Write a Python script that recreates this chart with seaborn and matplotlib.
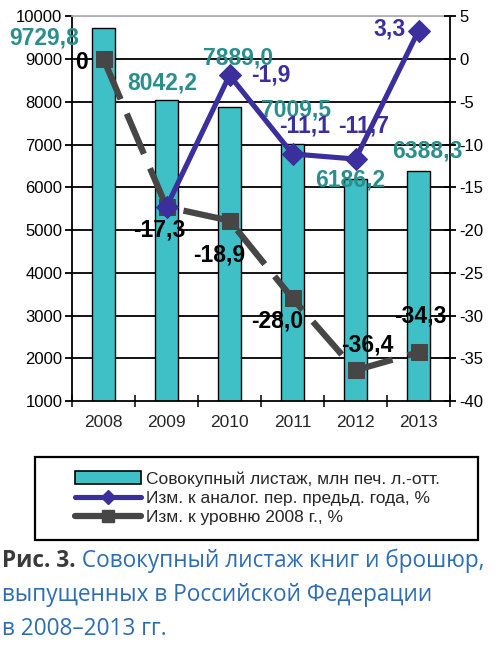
import numpy as np
import pandas as pd
import matplotlib
matplotlib.use("Agg")
import matplotlib.pyplot as plt
import seaborn as sns
from matplotlib.patches import Patch, Rectangle
from matplotlib.lines import Line2D

# Данные
years = ["2008", "2009", "2010", "2011", "2012", "2013"]
listazh = [9729.8, 8042.2, 7889.0, 7009.5, 6186.2, 6388.3]
chg_prev = [None, -17.3, -1.9, -11.1, -11.7, 3.3]
chg_2008 = [0.0, -17.3, -18.9, -28.0, -36.4, -34.3]

bar_labels = ["9729,8", "8042,2", "7889,0", "7009,5", "6186,2", "6388,3"]
prev_labels = [None, None, "-1,9", "-11,1", "-11,7", "3,3"]
base_labels = ["0", "-17,3", "-18,9", "-28,0", "-36,4", "-34,3"]

legend_labels = ["Совокупный листаж, млн печ. л.-отт.",
                 "Изм. к аналог. пер. предьд. года, %",
                 "Изм. к уровню 2008 г., %"]

BAR = "#3ec0c6"
TEAL_TXT = "#2a8f8c"
BLUE = "#3a2f9c"
GRAY = "#464646"
CAP_BLUE = "#2f6db3"

sns.set_theme(style="white")
plt.rcParams["font.family"] = ["Liberation Sans", "DejaVu Sans"]
plt.rcParams["axes.unicode_minus"] = False

df = pd.DataFrame({"year": years, "listazh": listazh})

fig = plt.figure(figsize=(5.0, 6.51), dpi=100)
ax = fig.add_axes([0.144, 0.384, 0.756, 0.591])

sns.barplot(data=df, x="year", y="listazh", color=BAR, width=0.38,
            edgecolor="black", linewidth=1.0, saturation=1, ax=ax, zorder=2)
ax.set_ylim(1000, 10000)
ax.set_yticks(np.arange(1000, 10001, 1000))
ax.set_xlim(-0.5, 5.5)
ax.set_xlabel("")
ax.set_ylabel("")
ax.grid(False)
for v in range(2000, 10000, 1000):
    ax.axhline(v, color="black", lw=1.3, zorder=1)
ax.axhline(10000, color="#b0b0b0", lw=1.3, zorder=1)

for s in ["left", "right", "bottom"]:
    ax.spines[s].set_color("black")
    ax.spines[s].set_linewidth(1.3)
ax.spines["top"].set_color("#b0b0b0")

ax.tick_params(axis="y", labelsize=12, colors="black", direction="out",
               length=5, width=1.3, left=True, pad=2)
ax.set_xticks(range(6))
ax.set_xticklabels(years)
ax.tick_params(axis="x", which="major", labelsize=12.5, length=0, pad=10)
ax.set_xticks(np.arange(-0.5, 6.0, 1.0), minor=True)
ax.tick_params(axis="x", which="minor", direction="inout", length=8,
               width=1.3, bottom=True)

# Правая ось
ax2 = ax.twinx()
ax2.set_ylim(-40, 5)
ax2.set_yticks(np.arange(-40, 6, 5))
ax2.grid(False)
ax2.tick_params(axis="y", labelsize=12, colors="black", direction="inout",
                length=8, width=1.3, right=True, pad=3)
for s in ax2.spines.values():
    s.set_visible(False)

xs = np.arange(6)
sns.lineplot(x=xs, y=chg_2008, ax=ax2, color=GRAY, lw=4.5,
             marker="s", markersize=12, markeredgecolor=GRAY,
             linestyle=(0, (7, 2.5)), zorder=3)
sns.lineplot(x=xs[1:], y=chg_prev[1:], ax=ax2, color=BLUE, lw=3.7,
             marker="D", markersize=11, markeredgecolor=BLUE, zorder=4)

# Подписи
LBL = 16.5
bar_off = [(-59, -10), (-4, 17), (9, 49), (4, 34), (-5, -1), (9, 20)]
for i, (v, t) in enumerate(zip(listazh, bar_labels)):
    ax.annotate(t, (i, v), xytext=bar_off[i], textcoords="offset pixels",
                ha="center", va="center", fontsize=LBL, fontweight="bold",
                color=TEAL_TXT, zorder=6)

prev_off = [None, None, (41, 0), (12, 28), (8, 33), (-29, 2)]
for i, (v, t) in enumerate(zip(chg_prev, prev_labels)):
    if t is None:
        continue
    ax2.annotate(t, (i, v), xytext=prev_off[i], textcoords="offset pixels",
                 ha="center", va="center", fontsize=LBL, fontweight="bold",
                 color=BLUE, zorder=6)

base_off = [(-22, -3), (-7, -23), (-10, -34), (-15, -23), (12, 25), (2, 36)]
for i, (v, t) in enumerate(zip(chg_2008, base_labels)):
    ax2.annotate(t, (i, v), xytext=base_off[i], textcoords="offset pixels",
                 ha="center", va="center", fontsize=LBL, fontweight="bold",
                 color="black", zorder=6)

# Легенда
fig.patches.append(Rectangle((35 / 500, 1 - 540 / 651), 443 / 500, 83 / 651,
                             transform=fig.transFigure, fill=False,
                             edgecolor="black", lw=1.6))
handles = [Patch(facecolor=BAR, edgecolor="black", lw=1.2),
           Line2D([], [], color=BLUE, lw=3.7, marker="D", markersize=7),
           Line2D([], [], color=GRAY, lw=4.5, marker="s", markersize=8)]
fig.legend(handles, legend_labels, loc="center",
           bbox_to_anchor=(0.515, 1 - 498 / 651), fontsize=12.5,
           frameon=False, handlelength=3.8, handleheight=0.85,
           handletextpad=0.25, labelspacing=0.2, borderpad=0.3)

# Подпись к рисунку
cap_font = ["Open Sans", "DejaVu Sans"]
CAP = 16.3
x0 = 0.004
t1 = fig.text(x0, 1 - 567 / 651, "Рис. 3.", fontsize=CAP,
              fontweight="bold", color="#3a3a3a", family=cap_font,
              va="baseline")
fig.canvas.draw()
bb = t1.get_window_extent(renderer=fig.canvas.get_renderer())
fig.text(bb.x1 / fig.bbox.width, 1 - 567 / 651,
         " Совокупный листаж книг и брошюр,", fontsize=CAP,
         color=CAP_BLUE, family=cap_font, va="baseline")
fig.text(x0, 1 - 601 / 651, "выпущенных в Российской Федерации",
         fontsize=CAP, color=CAP_BLUE, family=cap_font, va="baseline")
fig.text(x0, 1 - 635 / 651, "в 2008–2013 гг.",
         fontsize=CAP, color=CAP_BLUE, family=cap_font, va="baseline")

fig.savefig("out.png", dpi=100, facecolor="white")
